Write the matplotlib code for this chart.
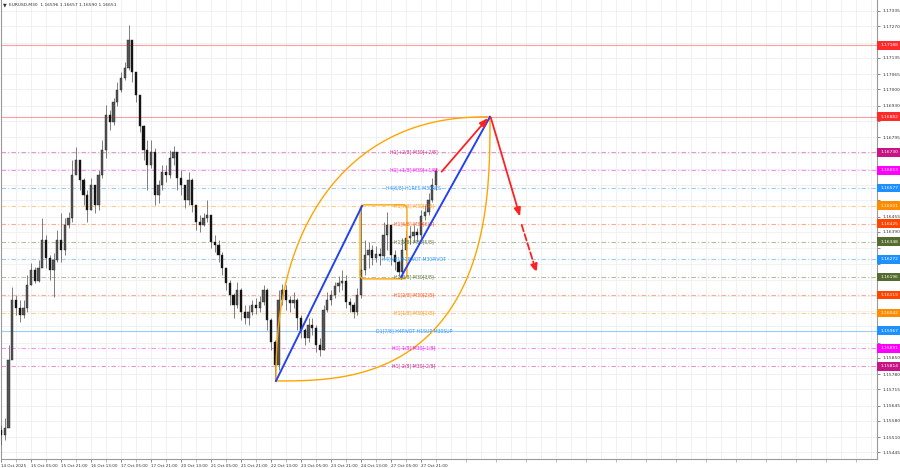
import numpy as np
import matplotlib
matplotlib.use('Agg')
import matplotlib.pyplot as plt
from matplotlib.patches import FancyBboxPatch, Rectangle

# EURUSD M30, gruppiert in 2h-Kerzen (4 Bars)
close = [1.15520, 1.15550, 1.15841, 1.16098, 1.16064, 1.16034, 1.16064, 1.16162, 1.16226, 1.16179,
         1.16235, 1.16355, 1.16278, 1.16226, 1.16269, 1.16355, 1.16312, 1.16419, 1.16449, 1.16633,
         1.16697, 1.16612, 1.16547, 1.16483, 1.16590, 1.16505, 1.16633, 1.16740, 1.16890, 1.16860,
         1.16945, 1.16997, 1.17048, 1.17091, 1.17211, 1.17074, 1.16975, 1.16843, 1.16740, 1.16676,
         1.16731, 1.16547, 1.16590, 1.16646, 1.16633, 1.16706, 1.16731, 1.16620, 1.16590, 1.16526,
         1.16612, 1.16505, 1.16432, 1.16419, 1.16449, 1.16462, 1.16346, 1.16333, 1.16291, 1.16235,
         1.16171, 1.16119, 1.16077, 1.16141, 1.16047, 1.16021, 1.16047, 1.16077, 1.16064, 1.16089,
         1.16141, 1.16012, 1.15918, 1.15820, 1.16098, 1.16141, 1.16098, 1.16085, 1.16098, 1.16021,
         1.15970, 1.15935, 1.15991, 1.15978, 1.15905, 1.15884, 1.16055, 1.16098, 1.16119, 1.16158,
         1.16171, 1.16179, 1.16089, 1.16077, 1.16047, 1.16119, 1.16226, 1.16291, 1.16312, 1.16278,
         1.16295, 1.16286, 1.16376, 1.16419, 1.16291, 1.16260, 1.16218, 1.16312, 1.16363, 1.16372,
         1.16389, 1.16376, 1.16458, 1.16475, 1.16526, 1.16590, 1.16651]
high = [1.15563, 1.15593, 1.15905, 1.16154, 1.16119, 1.16098, 1.16098, 1.16205, 1.16256, 1.16239,
        1.16269, 1.16449, 1.16376, 1.16291, 1.16299, 1.16398, 1.16470, 1.16449, 1.16475, 1.16697,
        1.16753, 1.16676, 1.16620, 1.16569, 1.16620, 1.16590, 1.16654, 1.16783, 1.16933, 1.16911,
        1.16963, 1.17031, 1.17074, 1.17117, 1.17275, 1.17147, 1.17048, 1.16911, 1.16847, 1.16783,
        1.16783, 1.16749, 1.16612, 1.16676, 1.16676, 1.16740, 1.16757, 1.16697, 1.16654, 1.16590,
        1.16646, 1.16620, 1.16505, 1.16462, 1.16470, 1.16526, 1.16462, 1.16376, 1.16355, 1.16303,
        1.16226, 1.16184, 1.16128, 1.16175, 1.16149, 1.16077, 1.16077, 1.16098, 1.16107, 1.16115,
        1.16162, 1.16149, 1.16021, 1.15927, 1.16141, 1.16166, 1.16162, 1.16115, 1.16132, 1.16107,
        1.16034, 1.15978, 1.16021, 1.16021, 1.15991, 1.15935, 1.16077, 1.16132, 1.16141, 1.16175,
        1.16201, 1.16226, 1.16205, 1.16107, 1.16089, 1.16149, 1.16500, 1.16355, 1.16346, 1.16333,
        1.16329, 1.16321, 1.16432, 1.16475, 1.16406, 1.16312, 1.16269, 1.16363, 1.16398, 1.16415,
        1.16419, 1.16406, 1.16483, 1.16505, 1.16556, 1.16620, 1.16663]
low = [1.15477, 1.15499, 1.15563, 1.15905, 1.16034, 1.16004, 1.16021, 1.16047, 1.16162, 1.16171,
       1.16175, 1.16260, 1.16235, 1.16184, 1.16111, 1.16260, 1.16260, 1.16291, 1.16406, 1.16432,
       1.16646, 1.16569, 1.16505, 1.16432, 1.16483, 1.16470, 1.16483, 1.16620, 1.16706, 1.16826,
       1.16847, 1.16928, 1.16988, 1.17040, 1.17082, 1.17031, 1.16945, 1.16817, 1.16697, 1.16569,
       1.16663, 1.16505, 1.16513, 1.16569, 1.16603, 1.16620, 1.16676, 1.16569, 1.16547, 1.16492,
       1.16505, 1.16475, 1.16398, 1.16389, 1.16415, 1.16432, 1.16321, 1.16303, 1.16260, 1.16205,
       1.16141, 1.16077, 1.16021, 1.16064, 1.16012, 1.15995, 1.15991, 1.16034, 1.16038, 1.16047,
       1.16077, 1.15970, 1.15884, 1.15751, 1.15798, 1.16077, 1.16055, 1.16047, 1.16064, 1.15970,
       1.15935, 1.15905, 1.15918, 1.15948, 1.15875, 1.15858, 1.15884, 1.16047, 1.16077, 1.16107,
       1.16132, 1.16141, 1.16064, 1.16047, 1.16021, 1.16034, 1.16107, 1.16205, 1.16235, 1.16248,
       1.16260, 1.16248, 1.16278, 1.16312, 1.16248, 1.16226, 1.16201, 1.16192, 1.16291, 1.16338,
       1.16346, 1.16346, 1.16363, 1.16440, 1.16462, 1.16517, 1.16569]
first_open = 1.15540
bars_per_candle = 4

time_labels = ['14 Oct 2025', '15 Oct 05:00', '15 Oct 21:00', '16 Oct 13:00', '17 Oct 05:00',
               '17 Oct 21:00', '20 Oct 13:00', '21 Oct 05:00', '21 Oct 21:00', '22 Oct 13:00',
               '23 Oct 05:00', '23 Oct 21:00', '24 Oct 13:00', '27 Oct 05:00', '27 Oct 21:00']

price_ticks = [1.17335, 1.17270, 1.17200, 1.17135, 1.17065, 1.17000, 1.16930, 1.16865, 1.16795,
               1.16725, 1.16660, 1.16590, 1.16525, 1.16455, 1.16390, 1.16320, 1.16250, 1.16185,
               1.16115, 1.16050, 1.15985, 1.15915, 1.15850, 1.15780, 1.15715, 1.15645, 1.15580,
               1.15510, 1.15445]

# Murrey-Levels
level_prices = [1.17188, 1.16882, 1.16730, 1.16653, 1.16577, 1.16501, 1.16425, 1.16348,
                1.16272, 1.16196, 1.16119, 1.16042, 1.15967, 1.15891, 1.15814]
level_texts = ['', '', 'H1[+2/8] M30[+2/8]', 'H1[+1/8] M30[+1/8]', 'H4[8/8] H1RES M30RES',
               'H1[7/8] M30[7/8]', 'H1[6/8] M30[6/8]', 'H1[5/8] M30[5/8]',
               'H4[6/8] H1PIVOT M30PIVOT', 'H1[3/8] M30[3/8]', 'H1[2/8] M30[2/8]',
               'H1[1/8] M30[1/8]', 'D1[7/8] H4PIVOT H1SUP M30SUP', 'H1[-1/8] M30[-1/8]',
               'H1[-2/8] M30[-2/8]']
level_colors = ['#ff2a2a', '#ff2a2a', '#c71585', '#ff00ff', '#1e90ff', '#ff8c00', '#ff4500',
                '#556b2f', '#1e90ff', '#556b2f', '#ff4500', '#ff8c00', '#1e90ff', '#ff00ff',
                '#c71585']
level_solid = [True, True, False, False, False, False, False, False, False, False, False,
               False, True, False, False]

# Zeichenobjekte (Bar-Index, Preis)
swing_low = (293.3, 1.15751)
swing_high1 = (385.1, 1.16500)
swing_low2 = (426.7, 1.16196)
target = (521.6, 1.16882)
box_x = (383.0, 433.0)
box_y = (1.16188, 1.16505)
red_up = ((470.0, 1.16647), (519.5, 1.16877))
red_down = ((522.5, 1.16878), (553.6, 1.16455))
red_dash = ((555.4, 1.16419), (571.4, 1.16214))
arc_power_upper = 2.3
arc_power_lower = 2.7

fig = plt.figure(figsize=(9, 4.68), dpi=100)
ax = fig.add_axes([1 / 900, 9 / 468, 876 / 900, 459 / 468])
ax.set_xlim(0, 934.4)
ax.set_ylim(1.15417, 1.17382)

# Raster
for b in np.arange(0, 935, 16):
    ax.axvline(b, color='#ececec', lw=0.5, zorder=0)
for p in price_ticks:
    ax.axhline(p, color='#ececec', lw=0.5, zorder=0)

# Levels
for p, col, solid, txt in zip(level_prices, level_colors, level_solid, level_texts):
    ls = '-' if solid else (0, (4, 2, 1, 2))
    ax.axhline(p, color=col, lw=0.8, ls=ls, alpha=0.45, zorder=1)
    if txt:
        ax.text(440.5, p, txt, color=col, fontsize=3.3, ha='center', va='center',
                alpha=0.9, zorder=6)

# Kerzen
x = np.arange(len(close)) * bars_per_candle
opens = np.array([first_open] + close[:-1])
cl = np.array(close)
ax.vlines(x, low, high, color='#6a6a6a', lw=0.6, zorder=3)
body_bottom = np.minimum(opens, cl)
body_h = np.maximum(np.abs(cl - opens), 0.00003)
body_col = ['#555555' if c >= o else '#111111' for o, c in zip(opens, cl)]
ax.bar(x, body_h, bottom=body_bottom, width=2.2, color=body_col, edgecolor='#222222',
       linewidth=0.3, zorder=4)

# orange Boegen
t = np.linspace(0, np.pi / 2, 200)
x0, y0 = swing_low
x1, y1 = target
ux = x1 - (x1 - x0) * np.cos(t) ** (2 / arc_power_upper)
uy = y0 + (y1 - y0) * np.sin(t) ** (2 / arc_power_upper)
lx = x0 + (x1 - x0) * np.sin(t) ** (2 / arc_power_lower)
ly = y1 - (y1 - y0) * np.cos(t) ** (2 / arc_power_lower)
ax.plot(ux, uy, color='#ffa500', lw=1.0, zorder=5)
ax.plot(lx, ly, color='#ffa500', lw=1.0, zorder=5)

box = FancyBboxPatch((box_x[0], box_y[0]), box_x[1] - box_x[0], box_y[1] - box_y[0],
                     boxstyle='round,pad=0,rounding_size=4.5', mutation_aspect=0.0000428 / 0.9375,
                     fill=False, edgecolor='#ffa500', lw=1.0, zorder=5)
ax.add_patch(box)

# blaue Linien
ax.plot([swing_low[0], swing_high1[0]], [swing_low[1], swing_high1[1]], color='#2342f0', lw=1.4, zorder=6)
ax.plot([swing_low2[0], target[0]], [swing_low2[1], target[1]], color='#2342f0', lw=1.4, zorder=6)

# rote Pfeile
for (p0, p1), ls in [(red_up, '-'), (red_down, '-'), (red_dash, '--')]:
    ax.annotate('', xy=p1, xytext=p0,
                arrowprops=dict(arrowstyle='-|>,head_length=0.5,head_width=0.2', color='#ff2020',
                                lw=1.3, ls=ls, shrinkA=0, shrinkB=0), zorder=7)

# Achsen - Ticklabels, die unter einem Preisschild liegen, ausblenden
ax.yaxis.tick_right()
ax.set_yticks(price_ticks)
tick_txt = []
for p in price_ticks:
    covered = min(abs(p - lp) for lp in level_prices) < 0.00029
    tick_txt.append('' if covered else f'{p:.5f}')
ax.set_yticklabels(tick_txt)
ax.tick_params(axis='y', labelsize=3.2, length=2, width=0.4, pad=2, colors='#333333')
ax.set_xticks(np.arange(len(time_labels)) * 32)
ax.set_xticklabels(time_labels)
ax.set_xticks(np.arange(16, 935, 32), minor=True)
ax.tick_params(axis='x', labelsize=3.0, length=2, width=0.4, pad=1.5, colors='#333333')
ax.tick_params(axis='x', which='minor', length=2, width=0.4, colors='#888888')
for lbl in ax.get_xticklabels():
    lbl.set_ha('left')
for s in ['left', 'right', 'bottom']:
    ax.spines[s].set_color('#9a9a9a')
    ax.spines[s].set_linewidth(0.8)
ax.spines['top'].set_visible(False)

# Preisschilder rechts
for p, col in zip(level_prices, level_colors):
    ax.add_patch(Rectangle((1.0, p - 0.00019), 0.027, 0.00038, transform=ax.get_yaxis_transform(),
                           facecolor=col, edgecolor='none', clip_on=False, zorder=8))
    ax.text(1.004, p, f'{p:.5f}', transform=ax.get_yaxis_transform(), color='white',
            fontsize=3.2, va='center', ha='left', zorder=9, clip_on=False)

fig.text(3 / 900, 1 - 5 / 468, '\u25bc', fontsize=3.5, va='center', color='#333333')
fig.text(9 / 900, 1 - 5 / 468, 'EURUSD,M30  1.16596 1.16657 1.16590 1.16651', fontsize=3.2,
         va='center', color='#333333')

fig.savefig('out.png', dpi=100)
